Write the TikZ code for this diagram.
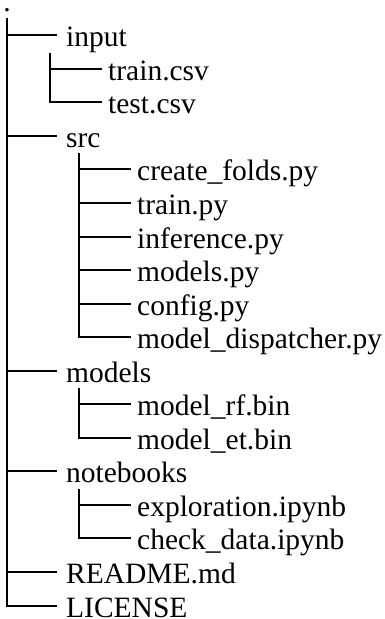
\documentclass[tikz,border=0pt]{standalone}
\usepackage{fontspec}
\setmainfont{Liberation Serif}
\tikzset{
  branch/.style={line width=2pt},
  dirnode/.style={anchor=west, inner xsep=9pt, inner ysep=0pt, text height=22pt, text depth=0pt, font=\fontsize{29.5}{34}\selectfont},
  filenode/.style={dirnode, inner xsep=6pt},
}
\begin{document}
\begin{tikzpicture}[x=1pt,y=-1pt]
	\pgfmathsetmacro{\rowh}{33.55}
	\pgfmathsetmacro{\rowtop}{35.2}
	\useasboundingbox (0,0) rectangle (385,619);
	\node[anchor=base, inner sep=0pt, text height=3pt, text depth=0pt, font=\fontsize{29.5}{34}\selectfont] (dot) at (7,11) {.};
	\coordinate (trunk) at (7,18);
	
	% top level
	\foreach \name/\txt/\row in {input/input/0, src/src/3, models/models/10, notebooks/notebooks/13, readme/README.md/16, license/LICENSE/17}{
		\node[dirnode] (\name) at (57,{round(\rowtop+\row*\rowh)}) {\txt};
		\draw[branch] (trunk) |- (\name.west);
	}
	
	% input
	\coordinate (inputsub) at (50,{round(\rowtop+17.5)});
	\foreach \name/\txt/\row in {traincsv/train.csv/1, testcsv/test.csv/2}{
		\node[filenode] (\name) at (102,{round(\rowtop+\row*\rowh)}) {\txt};
		\draw[branch] (inputsub) |- (\name.west);
	}
	
	% src
	\coordinate (srcsub) at (79,{round(\rowtop+3*\rowh+17.5)});
	\foreach \name/\txt/\row in {folds/create\_folds.py/4, trainpy/train.py/5, inference/inference.py/6, modelspy/models.py/7, config/config.py/8, dispatcher/model\_dispatcher.py/9}{
		\node[filenode] (\name) at (131,{round(\rowtop+\row*\rowh)}) {\txt};
		\draw[branch] (srcsub) |- (\name.west);
	}
	
	% models
	\coordinate (modelssub) at (79,{round(\rowtop+10*\rowh+17.5)});
	\foreach \name/\txt/\row in {rf/model\_rf.bin/11, et/model\_et.bin/12}{
		\node[filenode] (\name) at (131,{round(\rowtop+\row*\rowh)}) {\txt};
		\draw[branch] (modelssub) |- (\name.west);
	}
	
	% notebooks
	\coordinate (notebookssub) at (79,{round(\rowtop+13*\rowh+17.5)});
	\foreach \name/\txt/\row in {exploration/exploration.ipynb/14, checkdata/check\_data.ipynb/15}{
		\node[filenode] (\name) at (131,{round(\rowtop+\row*\rowh)}) {\txt};
		\draw[branch] (notebookssub) |- (\name.west);
	}
\end{tikzpicture}
\end{document}
